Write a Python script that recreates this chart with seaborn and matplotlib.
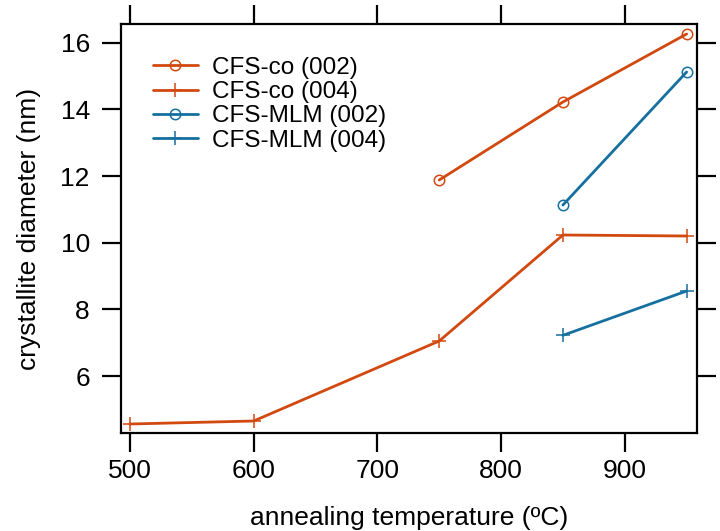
import numpy as np
import pandas as pd
import matplotlib
matplotlib.use("Agg")
import matplotlib.pyplot as plt
import seaborn as sns

# data
co_002_T = [750, 850, 950]
co_002_d = [11.88, 14.22, 16.26]
co_004_T = [500, 600, 750, 850, 950]
co_004_d = [4.56, 4.65, 7.05, 10.23, 10.20]
mlm_002_T = [850, 950]
mlm_002_d = [11.13, 15.12]
mlm_004_T = [850, 950]
mlm_004_d = [7.22, 8.55]

series_names = ['CFS-co (002)', 'CFS-co (004)', 'CFS-MLM (002)', 'CFS-MLM (004)']
orange = '#d1490f'
blue = '#16709f'

sns.set_style('ticks')
plt.rcParams['font.family'] = ['Liberation Sans', 'DejaVu Sans']
plt.rcParams['text.color'] = 'black'
plt.rcParams['axes.labelcolor'] = 'black'
plt.rcParams['xtick.color'] = 'black'
plt.rcParams['ytick.color'] = 'black'

fig, ax = plt.subplots(figsize=(7.2, 5.31), dpi=100)
fig.subplots_adjust(left=121 / 720, right=697 / 720, bottom=1 - 433 / 531, top=1 - 24 / 531)

series = [
    (co_002_T, co_002_d, orange, 'o'),
    (co_004_T, co_004_d, orange, '+'),
    (mlm_002_T, mlm_002_d, blue, 'o'),
    (mlm_004_T, mlm_004_d, blue, '+'),
]
for name, (xs, ys, c, m) in zip(series_names, series):
    df = pd.DataFrame({'T': xs, 'd': ys})
    sns.lineplot(
        data=df, x='T', y='d', ax=ax,
        color=c, lw=2.0, marker=m,
        markersize=7.5 if m == 'o' else 10,
        markerfacecolor='none', markeredgecolor=c, markeredgewidth=1.1,
        label=name,
    )

ax.set_xlim(492.7, 958.4)
ax.set_ylim(4.29, 16.56)
ax.set_xticks([500, 600, 700, 800, 900])
ax.set_yticks([6, 8, 10, 12, 14, 16])

for s in ax.spines.values():
    s.set_visible(True)
    s.set_linewidth(1.6)
    s.set_color('black')

ax.tick_params(axis='both', which='major', direction='out', length=13.5, width=1.6,
               labelsize=19, top=True, right=True, labeltop=False, labelright=False,
               color='black', labelcolor='black')
ax.tick_params(axis='x', pad=5)
ax.tick_params(axis='y', pad=9)

ax.set_xlabel('annealing temperature (ºC)', fontsize=19, labelpad=17)
ax.set_ylabel('crystallite diameter (nm)', fontsize=19, labelpad=14)

ax.legend(loc='upper left', bbox_to_anchor=(0.03, 0.956), frameon=False,
          fontsize=17.5, handlelength=1.85, handletextpad=0.6, labelspacing=0.1,
          borderaxespad=0.2)

fig.savefig('out.png', dpi=100)
